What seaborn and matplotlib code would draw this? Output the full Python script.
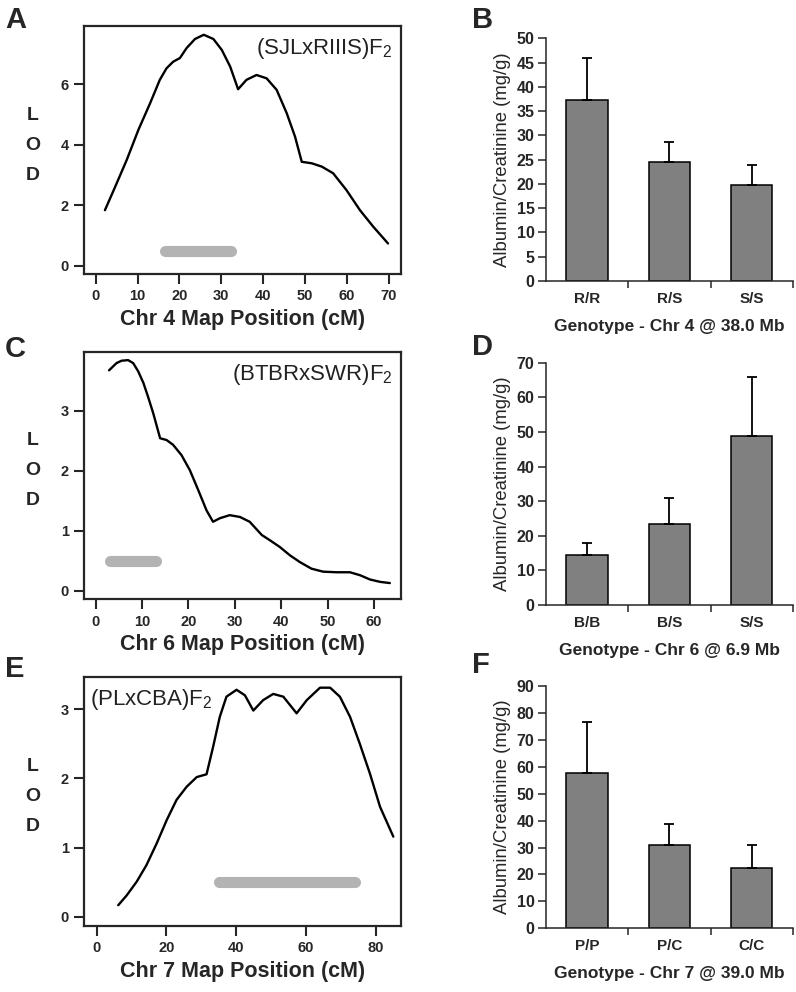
import numpy as np
import pandas as pd
import matplotlib
matplotlib.use("Agg")
import matplotlib.pyplot as plt
import seaborn as sns

# LOD curves
chr4_pos = [2.2, 4.6, 7.4, 10.2, 13.0, 15.3, 16.9, 18.5, 20.1, 21.7, 23.7, 25.8, 28.1, 30.1,
            32.1, 34.0, 36.0, 38.4, 40.8, 43.2, 45.6, 47.6, 49.2, 51.6, 54.0, 56.7, 59.9,
            63.1, 66.3, 69.8]
chr4_lod = [1.84, 2.6, 3.5, 4.5, 5.38, 6.15, 6.53, 6.75, 6.87, 7.2, 7.5, 7.64, 7.5, 7.14,
            6.59, 5.84, 6.15, 6.31, 6.2, 5.82, 5.05, 4.27, 3.44, 3.39, 3.28, 3.06, 2.5,
            1.84, 1.29, 0.74]
chr6_pos = [2.9, 4.5, 5.6, 7.0, 8.1, 9.2, 10.3, 11.3, 12.4, 13.9, 15.3, 16.7, 18.5, 20.3,
            22.1, 23.9, 25.3, 26.8, 28.9, 31.1, 33.2, 35.8, 37.6, 39.7, 41.9, 44.0, 46.5,
            49.0, 51.9, 54.8, 57.0, 59.1, 61.3, 63.4]
chr6_lod = [3.67, 3.79, 3.83, 3.84, 3.79, 3.65, 3.46, 3.23, 2.96, 2.54, 2.51, 2.43, 2.26,
            2.01, 1.68, 1.34, 1.15, 1.21, 1.26, 1.23, 1.15, 0.93, 0.84, 0.73, 0.59, 0.48,
            0.37, 0.32, 0.31, 0.31, 0.26, 0.19, 0.15, 0.13]
chr7_pos = [6.2, 8.6, 11.5, 14.3, 17.2, 20.1, 22.9, 25.8, 28.7, 31.5, 33.4, 35.3, 37.2, 40.1,
            42.5, 44.9, 47.7, 50.6, 53.5, 57.3, 60.2, 64.0, 66.9, 69.7, 72.6, 75.4, 78.3,
            81.2, 85.0]
chr7_lod = [0.17, 0.31, 0.51, 0.75, 1.06, 1.40, 1.69, 1.88, 2.02, 2.06, 2.46, 2.89, 3.18,
            3.28, 3.20, 2.98, 3.13, 3.22, 3.18, 2.94, 3.13, 3.31, 3.31, 3.18, 2.89, 2.50,
            2.07, 1.59, 1.16]

# confidence intervals (grey bars)
ci_chr4 = (16.5, 32.3)
ci_chr6 = (3.2, 13.0)
ci_chr7 = (35.0, 73.9)

# genotype means and upper error
geno_chr4 = ["R/R", "R/S", "S/S"]
mean_chr4 = [37.2, 24.5, 19.8]
err_chr4 = [8.8, 4.1, 4.2]
geno_chr6 = ["B/B", "B/S", "S/S"]
mean_chr6 = [14.4, 23.3, 48.8]
err_chr6 = [3.4, 7.7, 17.0]
geno_chr7 = ["P/P", "P/C", "C/C"]
mean_chr7 = [57.8, 30.8, 22.3]
err_chr7 = [18.9, 7.8, 8.6]

sns.set_style("ticks")
plt.rcParams['font.family'] = ['Liberation Sans', 'DejaVu Sans']
plt.rcParams['mathtext.fontset'] = 'custom'
plt.rcParams['mathtext.rm'] = 'Liberation Sans'
plt.rcParams['mathtext.it'] = 'Liberation Sans:italic'
plt.rcParams['mathtext.bf'] = 'Liberation Sans:bold'

W, H = 796, 992
fig = plt.figure(figsize=(W / 100, H / 100), dpi=100)


def px_axes(x0, y0, x1, y1):
    return fig.add_axes([x0 / W, 1 - y1 / H, (x1 - x0) / W, (y1 - y0) / H])


def lod_panel(ax, pos, lod, ci, xlim, ylim, xticks, yticks, chrom, cross, cross_pos):
    df = pd.DataFrame({"pos": pos, "lod": lod})
    sns.lineplot(data=df, x="pos", y="lod", ax=ax, color="black", linewidth=1.7,
                 sort=False, estimator=None)
    ax.plot(ci, [0.5, 0.5], color="#b3b3b3", linewidth=8, solid_capstyle="round")
    ax.set_xlim(*xlim)
    ax.set_ylim(*ylim)
    ax.set_xticks(xticks)
    ax.set_yticks(yticks)
    for s in ax.spines.values():
        s.set_linewidth(1.6)
    ax.tick_params(direction="out", length=7, width=1.5, labelsize=10.5, pad=4)
    for lab in ax.get_xticklabels() + ax.get_yticklabels():
        lab.set_fontweight("bold")
    ax.set_xlabel(f"Chr {chrom} Map Position (cM)", fontsize=15.5, fontweight="bold",
                  labelpad=4)
    ax.set_ylabel("")
    ax.text(-0.161, 0.52, "L\nO\nD", transform=ax.transAxes, ha="center", va="center",
            fontsize=14, fontweight="bold", linespacing=2.0)
    x, ha = cross_pos
    ax.text(x, 0.96, cross, transform=ax.transAxes, ha=ha, va="top", fontsize=16,
            color="#222222")


def bar_panel(ax, genos, means, errs, ymax, ystep, chrom, mb):
    df = pd.DataFrame({"geno": genos, "val": means})
    sns.barplot(data=df, x="geno", y="val", ax=ax, color="#808080", saturation=1,
                width=0.5, edgecolor="black", linewidth=1.1, errorbar=None)
    ax.errorbar(range(len(genos)), means, yerr=[np.zeros(len(errs)), errs], fmt="none",
                ecolor="black", elinewidth=1.3, capsize=3.5, capthick=1.3, zorder=1)
    ax.set_xlim(-0.5, 2.5)
    ax.set_ylim(0, ymax)
    ax.set_yticks(np.arange(0, ymax + 1, ystep))
    ax.set_xticks([0.5, 1.5, 2.5], minor=True)
    sns.despine(ax=ax)
    ax.spines["left"].set_linewidth(1.1)
    ax.spines["bottom"].set_linewidth(1.1)
    ax.tick_params(axis="x", which="major", length=0, labelsize=11, pad=8)
    ax.tick_params(axis="x", which="minor", length=5, width=1.1, direction="out")
    ax.tick_params(axis="y", length=6, width=1.1, labelsize=11.5, pad=2)
    for lab in ax.get_xticklabels() + ax.get_yticklabels():
        lab.set_fontweight("bold")
    ax.set_ylabel("Albumin/Creatinine (mg/g)", fontsize=13.3, labelpad=4)
    ax.set_xlabel(f"Genotype - Chr {chrom} @ {mb} Mb", fontsize=12.5, fontweight="bold",
                  labelpad=9)


axA = px_axes(84, 26, 401, 274)
lod_panel(axA, chr4_pos, chr4_lod, ci_chr4, (-2.8, 72.9), (-0.27, 7.93),
          range(0, 71, 10), [0, 2, 4, 6], 4, r"(SJLxRIIIS)F$_2$", (0.975, "right"))
axC = px_axes(84, 351.7, 401, 599.3)
lod_panel(axC, chr6_pos, chr6_lod, ci_chr6, (-2.5, 65.8), (-0.14, 3.98),
          range(0, 61, 10), [0, 1, 2, 3], 6, r"(BTBRxSWR)F$_2$", (0.975, "right"))
axE = px_axes(84, 677.3, 401, 926)
lod_panel(axE, chr7_pos, chr7_lod, ci_chr7, (-3.6, 87.2), (-0.13, 3.46),
          range(0, 81, 20), [0, 1, 2, 3], 7, r"(PLxCBA)F$_2$", (0.02, "left"))

axB = px_axes(545.7, 38.3, 793, 281)
bar_panel(axB, geno_chr4, mean_chr4, err_chr4, 50, 5, 4, "38.0")
axD = px_axes(545.7, 362.7, 793, 605)
bar_panel(axD, geno_chr6, mean_chr6, err_chr6, 70, 10, 6, "6.9")
axF = px_axes(545.7, 686, 793, 928.3)
bar_panel(axF, geno_chr7, mean_chr7, err_chr7, 90, 10, 7, "39.0")

for letter, x, y in [("A", 5, 6), ("B", 472, 6), ("C", 5, 335), ("D", 472, 333),
                     ("E", 5, 655), ("F", 472, 651)]:
    fig.text(x / W, 1 - y / H, letter, fontsize=21, fontweight="bold", va="top", ha="left")

fig.savefig("out.png", dpi=100)
